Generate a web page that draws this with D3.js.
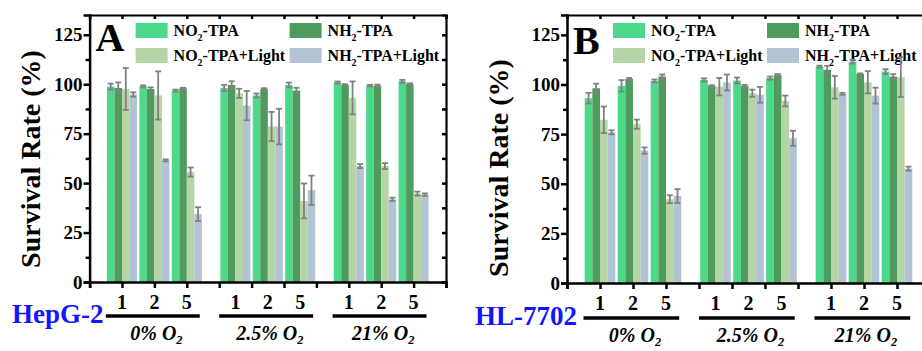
<!DOCTYPE html>
<html>
<head>
<meta charset="utf-8">
<script src="https://cdn.jsdelivr.net/npm/d3@7"></script>
<style>
  body { margin: 0; background: #fff; }
  svg { display: block; }
  text { font-family: "Liberation Serif", "Times New Roman", serif; font-weight: bold; }
</style>
</head>
<body>
<svg id="chart" width="922" height="351"></svg>
<script>
// categories: 3 oxygen levels x 3 concentrations
var concLabels = ["1", "2", "5", "1", "2", "5", "1", "2", "5"];
var clusterPos = [1, 2, 3, 4.5, 5.5, 6.5, 8, 9, 10];
var groupNames = ["0% O", "2.5% O", "21% O"];
var seriesNames = ["NO2-TPA", "NH2-TPA", "NO2-TPA+Light", "NH2-TPA+Light"];
var seriesColors = ["#4cd98b", "#4f9a5d", "#b6d5a7", "#b2c4d4"];
var yTicks = [0, 25, 50, 75, 100, 125];

// panel A, HepG-2
var hepNO2 = [98.8, 98.9, 96.8, 98.1, 94.3, 99.6, 100.9, 99.3, 101.5];
var hepNO2Err = [1.5, 0.5, 0.5, 1.5, 1, 1.2, 0.5, 0.4, 0.7];
var hepNH2 = [98.1, 97.6, 97.9, 99.6, 97.6, 96.8, 99.6, 99.3, 100.1];
var hepNH2Err = [2.8, 0.8, 0.3, 1.9, 0.4, 1.4, 0.4, 0.5, 0.4];
var hepNO2L = [97.6, 94.3, 55.6, 95.4, 78.6, 41, 93.1, 58.6, 44.7];
var hepNO2LErr = [10.6, 12.2, 2.3, 2.3, 7.4, 8.8, 8.3, 1.5, 1];
var hepNH2L = [94.8, 61.5, 34.3, 89.2, 78.6, 46.4, 58.6, 41.8, 44.2];
var hepNH2LErr = [1.1, 0.5, 3.5, 7.4, 9, 7.4, 1, 0.8, 0.6];

// panel B, HL-7702
var hlNO2 = [93.1, 99.3, 101.8, 102.3, 102, 103.2, 109, 111.5, 106.5];
var hlNO2Err = [2.7, 2.9, 0.7, 0.8, 1.5, 0.8, 0.5, 1, 1.2];
var hlNH2 = [98.1, 102.8, 104, 99.3, 99.3, 104.8, 107.4, 105.3, 104];
var hlNH2Err = [2.3, 0.5, 1, 0.3, 0.5, 0.5, 2, 0.3, 1.2];
var hlNO2L = [82.2, 80, 42.2, 98.9, 95.6, 91.7, 98.6, 101.1, 103.7];
var hlNO2LErr = [6.7, 2.3, 2, 4.4, 1.8, 2.7, 5.7, 5.6, 10];
var hlNH2L = [75.9, 66.7, 43.8, 101, 94.8, 72.9, 95.3, 94.4, 57.6];
var hlNH2LErr = [1, 1.6, 3.5, 4, 4, 3.8, 0.5, 4, 1];

var panels = [
  { letter: "A", cell: "HepG-2", left: 89.6, right: 446, top: 15, bottom: 282,
    titleX: 30, titleY: 159, cellX: 12, cellY: 323, letterY: 51,
    catY: 309, lineY: 316, groupY: 340,
    values: [hepNO2, hepNH2, hepNO2L, hepNH2L],
    errs: [hepNO2Err, hepNH2Err, hepNO2LErr, hepNH2LErr] },
  { letter: "B", cell: "HL-7702", left: 567, right: 930, top: 15, bottom: 283,
    titleX: 498, titleY: 168, cellX: 475, cellY: 325, letterY: 54,
    catY: 310, lineY: 318, groupY: 342,
    values: [hlNO2, hlNH2, hlNO2L, hlNH2L],
    errs: [hlNO2Err, hlNH2Err, hlNO2LErr, hlNH2LErr] }
];

var svg = d3.select("#chart");
svg.append("rect").attr("width", 922).attr("height", 351).attr("fill", "#fff");

// text with a subscript "2" after the head part
function subText(sel, head, tail, size, drop) {
  sel.append("tspan").text(head);
  sel.append("tspan").attr("font-size", size * 0.62).attr("dy", size * drop).text("2");
  if (tail) sel.append("tspan").attr("dy", -size * drop).text(tail);
}

panels.forEach(function(p) {
  var x = d3.scaleLinear().domain([0, 11]).range([p.left, p.right]);
  var y = d3.scaleLinear().domain([0, 135]).range([p.bottom, p.top]);
  var g = svg.append("g");
  var bw = (x(1) - x(0)) * 0.232;

  // legend
  var lg = g.append("g");
  seriesNames.forEach(function(name, i) {
    var lx = p.left + (i % 2 ? 200 : 46),
        ly = p.top + 8 + Math.floor(i / 2) * 25;
    lg.append("rect").attr("x", lx).attr("y", ly).attr("width", 32).attr("height", 15)
      .attr("fill", seriesColors[i]);
    var t = lg.append("text").attr("x", lx + 38).attr("y", ly + 13).attr("font-size", 16);
    subText(t, name.slice(0, 2), name.slice(3), 16, 0.3);
  });
  g.append("text").attr("x", p.left + 6).attr("y", p.letterY)
    .attr("font-size", 40).text(p.letter);

  // bars
  seriesNames.forEach(function(name, s) {
    var off = (s - 1.5) * bw;
    g.append("g").selectAll("rect").data(p.values[s]).join("rect")
      .attr("x", function(d, i) { return x(clusterPos[i]) + off - bw / 2; })
      .attr("y", function(d) { return y(d); })
      .attr("width", bw)
      .attr("height", function(d) { return y(0) - y(d); })
      .attr("fill", seriesColors[s]);
  });

  // error bars
  seriesNames.forEach(function(name, s) {
    var off = (s - 1.5) * bw;
    var eg = g.append("g").attr("stroke", "#808080").attr("stroke-width", 1.8);
    p.values[s].forEach(function(v, i) {
      var cx = x(clusterPos[i]) + off, e = p.errs[s][i];
      eg.append("line").attr("x1", cx).attr("x2", cx).attr("y1", y(v - e)).attr("y2", y(v + e));
      eg.append("line").attr("x1", cx - 3).attr("x2", cx + 3).attr("y1", y(v - e)).attr("y2", y(v - e));
      eg.append("line").attr("x1", cx - 3).attr("x2", cx + 3).attr("y1", y(v + e)).attr("y2", y(v + e));
    });
  });

  // frame: top and right with inward ticks
  var top = g.append("g").attr("transform", "translate(0," + p.top + ")")
    .call(d3.axisTop(x).ticks(11).tickSize(-4).tickFormat(""));
  var right = g.append("g").attr("transform", "translate(" + p.right + ",0)")
    .call(d3.axisRight(y).tickValues(d3.range(0, 135, 12.5)).tickSize(-4).tickFormat(""));

  // left axis, major and minor
  var left = g.append("g").attr("transform", "translate(" + p.left + ",0)")
    .call(d3.axisLeft(y).tickValues(yTicks).tickSize(6).tickPadding(1));
  left.selectAll("text").attr("font-size", 19).attr("fill", "#000")
    .style("font-family", "Liberation Serif").style("font-weight", "bold");
  var minor = g.append("g").attr("transform", "translate(" + p.left + ",0)")
    .call(d3.axisLeft(y).tickValues([12.5, 37.5, 62.5, 87.5, 112.5]).tickSize(4).tickFormat(""));
  minor.select(".domain").remove();

  var bottom = g.append("g").attr("transform", "translate(0," + p.bottom + ")")
    .call(d3.axisBottom(x).ticks(11).tickSize(6).tickFormat(""));

  [top, right, left, minor, bottom].forEach(function(a) {
    a.selectAll("path,line").attr("stroke", "#000").attr("stroke-width", 2.5);
  });
  top.select(".domain").attr("stroke-width", 2.2);
  right.select(".domain").attr("stroke-width", 2.2);

  // y title
  g.append("text")
    .attr("transform", "translate(" + p.titleX + "," + p.titleY + ") rotate(-90)")
    .attr("text-anchor", "middle").attr("dy", "0.35em")
    .attr("font-size", 28).text("Survival Rate (%)");

  // concentration labels
  g.append("g").selectAll("text").data(concLabels).join("text")
    .attr("x", function(d, i) { return x(clusterPos[i]); })
    .attr("y", p.catY).attr("text-anchor", "middle").attr("font-size", 20)
    .text(function(d) { return d; });

  // group underline and oxygen labels
  groupNames.forEach(function(name, k) {
    var a = clusterPos[k * 3], b = clusterPos[k * 3 + 2], m = clusterPos[k * 3 + 1];
    g.append("line").attr("x1", x(a - 0.5)).attr("x2", x(b + 0.4))
      .attr("y1", p.lineY).attr("y2", p.lineY)
      .attr("stroke", "#000").attr("stroke-width", 3.5);
    var t = g.append("text").attr("x", x(m) + 2).attr("y", p.groupY)
      .attr("text-anchor", "middle").attr("font-size", 20).attr("font-style", "italic");
    subText(t, name, null, 20, 0.22);
  });

  g.append("text").attr("x", p.cellX).attr("y", p.cellY)
    .attr("font-size", 27).attr("fill", "#1414ff").text(p.cell);
});
</script>
</body>
</html>
